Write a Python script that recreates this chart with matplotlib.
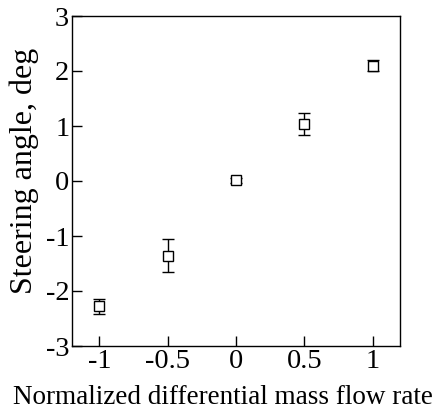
import matplotlib
matplotlib.use("Agg")
import matplotlib.pyplot as plt

x_vals = [-1.0, -0.5, 0.0, 0.5, 1.0]
y_vals = [-2.28, -1.36, 0.01, 1.03, 2.10]
y_err = [0.13, 0.30, 0.05, 0.20, 0.10]
x_ticks = [-1, -0.5, 0, 0.5, 1]
x_ticklabels = ["-1", "-0.5", "0", "0.5", "1"]
y_ticks = [-3, -2, -1, 0, 1, 2, 3]
y_ticklabels = ["-3", "-2", "-1", "0", "1", "2", "3"]

plt.rcParams['font.family'] = ['Liberation Serif', 'DejaVu Serif']
fig = plt.figure(figsize=(4.46, 4.12), dpi=100)
ax = fig.add_axes([72/446, 1-346/412, 328/446, 330/412])
ax.errorbar(x_vals, y_vals, yerr=y_err, fmt='s', mfc='white', mec='black',
            ms=6.5, mew=1.0, ecolor='black', elinewidth=1.0, capsize=4, capthick=1.0)
ax.set_xlim(-1.2, 1.2)
ax.set_ylim(-3, 3)
ax.set_xticks(x_ticks)
ax.set_xticklabels(x_ticklabels)
ax.set_yticks(y_ticks)
ax.set_yticklabels(y_ticklabels)
ax.tick_params(direction='in', length=7, width=1.0, labelsize=20.5, pad=2,
               top=False, right=False)
for s in ax.spines.values():
    s.set_linewidth(1.0)
ax.set_xlabel("Normalized differential mass flow rate", fontsize=19.5)
ax.set_ylabel("Steering angle, deg", fontsize=23)
ax.xaxis.set_label_coords((223-72)/328, -(404-346)/330, transform=ax.transAxes)
ax.xaxis.label.set_va('baseline')
ax.yaxis.set_label_coords(-(72-10)/328, (346-171)/330, transform=ax.transAxes)
ax.yaxis.label.set_va('top')
fig.savefig("out.png", dpi=100)
